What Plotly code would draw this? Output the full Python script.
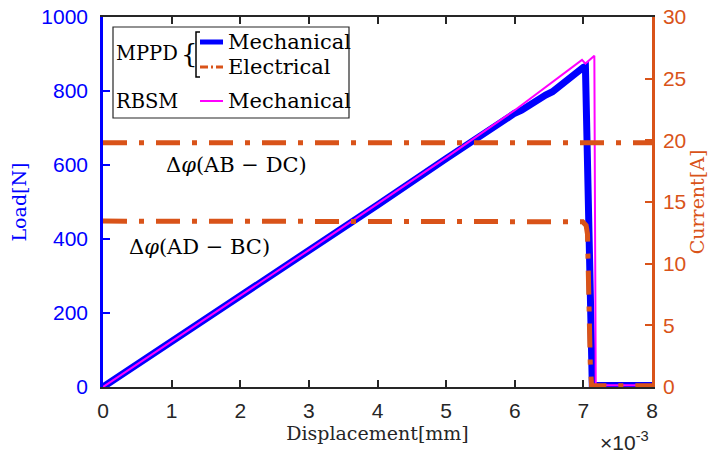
import plotly.graph_objects as go

# ---- data (displacement in mm) ----
mppd_mech_x = [0, 0.001, 0.002, 0.003, 0.004, 0.005, 0.0055, 0.0058, 0.0060, 0.0061, 0.0062,
               0.00635, 0.0064, 0.00645, 0.00655, 0.0066, 0.0067, 0.00685, 0.0070, 0.00703,
               0.00713, 0.008]
mppd_mech_y = [0, 122, 245, 368, 492, 617, 681, 716, 740, 748, 760, 781, 784, 789, 798, 806,
               820, 843, 864, 866, 4, 4]

rbsm_mech_x = [0, 0.001, 0.002, 0.003, 0.004, 0.005, 0.006, 0.00698, 0.00703, 0.00716, 0.00718, 0.008]
rbsm_mech_y = [0, 123, 247, 370, 495, 620, 748, 884, 874, 895, 5, 5]

elec_ab_dc_x = [0, 0.008]
elec_ab_dc_y = [19.8, 19.8]

elec_ad_bc_x = [0, 0.00692, 0.00699, 0.00704, 0.00706, 0.0071, 0.00712, 0.008]
elec_ad_bc_y = [13.45, 13.45, 13.4, 13.1, 12.4, 2.0, 0.1, 0.1]

x_ticks = [0, 0.001, 0.002, 0.003, 0.004, 0.005, 0.006, 0.007, 0.008]
x_tick_labels = ["0", "1", "2", "3", "4", "5", "6", "7", "8"]
load_ticks = [0, 200, 400, 600, 800, 1000]
current_ticks = [0, 5, 10, 15, 20, 25, 30]

BLUE = "#0000FF"
MAG = "#FF00FF"
ORANGE = "#D95319"
DARK = "#262626"
SERIF = "DejaVu Serif"
SANS = "Liberation Sans"

W, H = 712, 453
L, R, T, B = 103, 60, 17, 66
PW, PH = W - L - R, H - T - B


def px(x):
    return (x - L) / PW


def py(y):
    return (H - B - y) / PH


DASHDOT = "24px,12px,5px,12px"

fig = go.Figure()
fig.add_trace(go.Scatter(x=mppd_mech_x, y=mppd_mech_y, mode="lines",
                         line=dict(color=BLUE, width=7), showlegend=False))
fig.add_trace(go.Scatter(x=rbsm_mech_x, y=rbsm_mech_y, mode="lines",
                         line=dict(color=MAG, width=2), showlegend=False))
fig.add_trace(go.Scatter(x=elec_ab_dc_x, y=elec_ab_dc_y, mode="lines", yaxis="y2",
                         line=dict(color=ORANGE, width=5, dash=DASHDOT), showlegend=False))
fig.add_trace(go.Scatter(x=elec_ad_bc_x, y=elec_ad_bc_y, mode="lines", yaxis="y2",
                         line=dict(color=ORANGE, width=5, dash=DASHDOT), showlegend=False))

shapes = []
annotations = []

# legend box
shapes.append(dict(type="rect", xref="paper", yref="paper",
                   x0=px(113), x1=px(349), y0=py(118), y1=py(27),
                   line=dict(color=DARK, width=1.2), fillcolor="white", layer="above"))
# bracket
bx0, bx1 = px(196), px(200)
shapes.append(dict(type="path", xref="paper", yref="paper",
                   path=f"M {bx1},{py(32)} L {bx0},{py(32)} L {bx0},{py(77)} L {bx1},{py(77)}",
                   line=dict(color="black", width=1.5), layer="above"))
# legend samples
shapes.append(dict(type="line", xref="paper", yref="paper", x0=px(200), x1=px(223),
                   y0=py(42), y1=py(42), line=dict(color=BLUE, width=5), layer="above"))
shapes.append(dict(type="line", xref="paper", yref="paper", x0=px(200), x1=px(223),
                   y0=py(67), y1=py(67), line=dict(color=ORANGE, width=3, dash="8px,3px,2px,3px"),
                   layer="above"))
shapes.append(dict(type="line", xref="paper", yref="paper", x0=px(200), x1=px(223),
                   y0=py(101), y1=py(101), line=dict(color=MAG, width=2), layer="above"))

for txt, x, y, sz in [("MPPD", 114, 53, 19.5), ("Mechanical", 226, 42, 21), ("Electrical", 226, 67, 21),
                      ("RBSM", 114, 101, 19.5), ("Mechanical", 226, 101, 21)]:
    annotations.append(dict(text=txt, xref="paper", yref="paper", x=px(x), y=py(y),
                            xanchor="left", yanchor="middle", showarrow=False,
                            font=dict(family=SERIF, size=sz, color="black")))
annotations.append(dict(text="{", xref="paper", yref="paper", x=px(189.5), y=py(54),
                        xanchor="center", yanchor="middle", showarrow=False,
                        font=dict(family=SERIF, size=26, color="black")))

# Δφ labels
annotations.append(dict(text="Δ<i>φ</i>(AB − DC)", x=0.00195, y=600, xref="x", yref="y",
                        xanchor="center", yanchor="middle", showarrow=False,
                        font=dict(family=SERIF, size=21, color="black")))
annotations.append(dict(text="Δ<i>φ</i>(AD − BC)", x=0.00140, y=378, xref="x", yref="y",
                        xanchor="center", yanchor="middle", showarrow=False,
                        font=dict(family=SERIF, size=21, color="black")))

# exponent label
annotations.append(dict(text="×10<sup>-3</sup>", xref="paper", yref="paper",
                        x=px(598), y=py(441), xanchor="left", yanchor="middle",
                        showarrow=False, font=dict(family=SANS, size=21, color=DARK)))

fig.update_layout(
    width=W, height=H,
    margin=dict(l=L, r=R, t=T, b=B, pad=0, autoexpand=False),
    paper_bgcolor="white", plot_bgcolor="white",
    showlegend=False,
    shapes=shapes, annotations=annotations,
    xaxis=dict(range=[0, 0.008], tickvals=x_ticks, ticktext=x_tick_labels, automargin=False,
               showgrid=False, zeroline=False, showline=True, linecolor=DARK, linewidth=2,
               mirror="ticks", ticks="inside", ticklen=7, tickwidth=1.5, tickcolor=DARK,
               tickfont=dict(family=SANS, size=21, color=DARK), ticklabelstandoff=4,
               title=dict(text="Displacement[mm]", font=dict(family=SERIF, size=19, color=DARK),
                          standoff=0)),
    yaxis=dict(range=[0, 1000], tickvals=load_ticks, showgrid=False, zeroline=False,
               automargin=False,
               showline=True, linecolor=BLUE, linewidth=2.5, ticks="inside", ticklen=7,
               tickwidth=1.5, tickcolor=BLUE, tickfont=dict(family=SANS, size=21, color=BLUE),
               ticklabelstandoff=8,
               title=dict(text="Load[N]", font=dict(family=SERIF, size=19, color=BLUE),
                          standoff=10)),
    yaxis2=dict(range=[0, 30], tickvals=current_ticks, overlaying="y", side="right",
                automargin=False,
                showgrid=False, zeroline=False, showline=True, linecolor=ORANGE, linewidth=2.5,
                ticks="inside", ticklen=7, tickwidth=1.5, tickcolor=ORANGE,
                tickfont=dict(family=SANS, size=21, color=ORANGE), ticklabelstandoff=4,
                title=dict(text="Current[A]", font=dict(family=SERIF, size=19, color=ORANGE),
                           standoff=6)),
)

fig.write_html("out.html")
